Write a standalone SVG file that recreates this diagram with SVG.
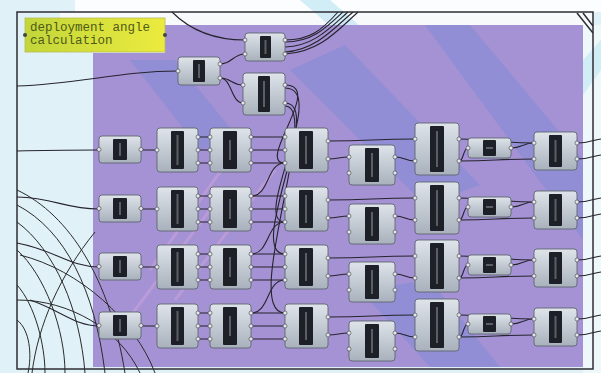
<svg xmlns="http://www.w3.org/2000/svg" width="601" height="373" viewBox="0 0 601 373">
<style>
.nb{fill:url(#ng);stroke:#5e6670;stroke-width:0.9}
.bar{fill:#1d2026}
.hl{fill:#8d939c;opacity:0.55}
.pt{fill:#e4e7eb;stroke:#3c4046;stroke-width:0.6}
.w{fill:none;stroke:#26242e;stroke-width:1.1}
.bg{fill:none;stroke:#2a2a2a;stroke-width:1}
.st{fill:#6f86d6;opacity:0.35}
.pk{fill:none;stroke:#d3a6dc;stroke-width:3;opacity:0.45}
.pl{font-family:"Liberation Mono",monospace;font-size:12.5px;fill:#4e5a1a}
</style>
<defs>
<linearGradient id="ng" x1="0" y1="0" x2="0" y2="1"><stop offset="0" stop-color="#dfe4ea"/><stop offset="1" stop-color="#a8b1bc"/></linearGradient>
<linearGradient id="pg" x1="0" y1="0" x2="1" y2="0"><stop offset="0" stop-color="#c2d63a"/><stop offset="1" stop-color="#eceb3e"/></linearGradient>
<g id="tA"><rect class="nb" width="42" height="27" rx="3"/><rect class="bar" x="14" y="3" width="14" height="21" rx="1"/><rect class="hl" x="20" y="7" width="2" height="13"/><circle class="pt" cx="0" cy="13.5" r="2"/><circle class="pt" cx="42" cy="13.5" r="2"/></g>
<g id="tB"><rect class="nb" width="41" height="44" rx="3"/><rect class="bar" x="14" y="3" width="13" height="38" rx="1"/><rect class="hl" x="19.5" y="7" width="2" height="30"/><circle class="pt" cx="0" cy="22" r="2"/><circle class="pt" cx="41" cy="9" r="2"/><circle class="pt" cx="41" cy="22" r="2"/><circle class="pt" cx="41" cy="35" r="2"/></g>
<g id="tC"><rect class="nb" width="41" height="44" rx="3"/><rect class="bar" x="13" y="3" width="14" height="38" rx="1"/><rect class="hl" x="19" y="12" width="2" height="20"/><circle class="pt" cx="0" cy="9" r="2"/><circle class="pt" cx="0" cy="22" r="2"/><circle class="pt" cx="0" cy="35" r="2"/><circle class="pt" cx="41" cy="9" r="2"/><circle class="pt" cx="41" cy="22" r="2"/><circle class="pt" cx="41" cy="35" r="2"/></g>
<g id="tD"><rect class="nb" width="43" height="44" rx="3"/><rect class="bar" x="14" y="3" width="14" height="38" rx="1"/><rect class="hl" x="20" y="8" width="2" height="28"/><circle class="pt" cx="0" cy="9" r="2"/><circle class="pt" cx="0" cy="22" r="2"/><circle class="pt" cx="0" cy="35" r="2"/><circle class="pt" cx="43" cy="13" r="2"/><circle class="pt" cx="43" cy="31" r="2"/></g>
<g id="tE"><rect class="nb" width="46" height="40" rx="3"/><rect class="bar" x="16" y="3" width="14" height="34" rx="1"/><rect class="hl" x="22" y="8" width="2" height="24"/><circle class="pt" cx="0" cy="12" r="2"/><circle class="pt" cx="0" cy="28" r="2"/><circle class="pt" cx="46" cy="12" r="2"/><circle class="pt" cx="46" cy="28" r="2"/></g>
<g id="tF"><rect class="nb" width="44" height="52" rx="3"/><rect class="bar" x="15" y="3" width="14" height="46" rx="1"/><rect class="hl" x="21" y="8" width="2" height="36"/><circle class="pt" cx="0" cy="16" r="2"/><circle class="pt" cx="0" cy="38" r="2"/><circle class="pt" cx="44" cy="16" r="2"/><circle class="pt" cx="44" cy="38" r="2"/></g>
<g id="tG"><rect class="nb" width="43" height="20" rx="3"/><rect class="bar" x="15" y="2" width="13" height="16" rx="1"/><rect class="hl" x="18" y="9" width="7" height="2"/><circle class="pt" cx="0" cy="10" r="2"/><circle class="pt" cx="43" cy="10" r="2"/></g>
<g id="tH"><rect class="nb" width="43" height="38" rx="3"/><rect class="bar" x="15" y="3" width="13" height="32" rx="1"/><rect class="hl" x="20.5" y="8" width="2" height="22"/><circle class="pt" cx="0" cy="11" r="2"/><circle class="pt" cx="0" cy="27" r="2"/><circle class="pt" cx="43" cy="11" r="2"/><circle class="pt" cx="43" cy="27" r="2"/></g>
<g id="tN1"><rect class="nb" width="40" height="28" rx="3"/><rect class="bar" x="15" y="3" width="11" height="22" rx="1"/><rect class="hl" x="19.5" y="7" width="2" height="14"/><circle class="pt" cx="0" cy="7" r="2"/><circle class="pt" cx="0" cy="21" r="2"/><circle class="pt" cx="40" cy="7" r="2"/><circle class="pt" cx="40" cy="21" r="2"/></g>
<g id="tN2"><rect class="nb" width="42" height="28" rx="3"/><rect class="bar" x="15" y="3" width="12" height="22" rx="1"/><rect class="hl" x="20" y="7" width="2" height="14"/><circle class="pt" cx="0" cy="14" r="2"/><circle class="pt" cx="42" cy="7" r="2"/><circle class="pt" cx="42" cy="21" r="2"/></g>
<g id="tN3"><rect class="nb" width="42" height="42" rx="3"/><rect class="bar" x="15" y="3" width="12" height="36" rx="1"/><rect class="hl" x="20" y="8" width="2" height="26"/><circle class="pt" cx="0" cy="12" r="2"/><circle class="pt" cx="0" cy="30" r="2"/><circle class="pt" cx="42" cy="12" r="2"/><circle class="pt" cx="42" cy="30" r="2"/></g>
</defs>

<g id="background">
<rect x="0" y="0" width="601" height="373" fill="#e0f1f7"/>
<rect x="75" y="0" width="526" height="12" fill="#fbfdfe"/>
<rect x="60" y="12" width="533" height="14" fill="#f7f9fb"/>
<polygon points="300,0 330,0 360,26 330,26" fill="#bfe6f2" opacity="0.7"/>
<polygon points="93,53 165,53 165,25 583,25 583,367 93,367" fill="#a492d4"/>
<polygon class="st" points="425,25 470,25 583,160 583,240"/>
<polygon class="st" points="290,70 345,45 480,185 425,205"/>
<polygon class="st" points="360,290 430,280 500,367 430,367"/>
<polygon class="st" points="130,60 175,60 240,140 200,150"/>
<line class="pk" x1="150" y1="270" x2="250" y2="130"/>
<line class="pk" x1="175" y1="300" x2="275" y2="170"/>
<line class="pk" x1="120" y1="330" x2="210" y2="210"/>
<rect x="583" y="25" width="18" height="348" fill="#eef7fa"/>
<polygon points="583,60 601,40 601,70 583,95" fill="#c4e8f3" opacity="0.7"/>
<path class="bg" d="M17 190 C70 215 110 280 125 373"/>
<path class="bg" d="M17 205 C65 230 95 290 105 373"/>
<path class="bg" d="M17 222 C55 250 80 310 85 373"/>
<path class="bg" d="M17 250 C45 275 65 330 65 373"/>
<path class="bg" d="M17 285 C35 305 45 345 45 373"/>
<path class="bg" d="M140 373 C120 330 70 300 17 300"/>
<path class="bg" d="M95 232 C60 275 38 325 32 373"/>
<path class="bg" d="M17 320 C30 330 32 355 28 373"/>
<path class="bg" d="M155 373 C135 320 80 270 20 255"/>
<rect x="17" y="12" width="576" height="357" fill="none" stroke="#2e2e33" stroke-width="1.5"/>
<path d="M577 13 L593 33 M583 13 L593 26" stroke="#2e2e33" stroke-width="1.5" fill="none"/>
</g>

<g id="connectors">
<path class="w" d="M17 86 C80 84 120 71 178 71"/>
<path class="w" d="M172 12 C190 30 215 40 245 40"/>
<path class="w" d="M220 64 C232 64 233 54 245 54"/>
<path class="w" d="M220 78 C232 78 231 85 243 85"/>
<path class="w" d="M220 78 C232 78 231 103 243 103"/>
<path class="w" d="M285 40 C310 40 322 30 338 12"/>
<path class="w" d="M285 42 C312 42 326 28 343 12"/>
<path class="w" d="M285 47 C314 46 330 28 348 12"/>
<path class="w" d="M285 52 C316 50 334 28 353 12"/>
<path class="w" d="M285 54 C320 52 338 30 358 12"/>
<path class="w" d="M285 85 C325 85 255 163 285 163"/>
<path class="w" d="M285 88 C330 88 250 222 285 222"/>
<path class="w" d="M285 103 C325 103 245 254 285 254"/>
<path class="w" d="M285 106 C322 106 240 313 285 313"/>
<path class="w" d="M251 196 C270 196 266 163 285 163"/>
<path class="w" d="M251 254 C270 254 266 222 285 222"/>
<path class="w" d="M251 313 C270 313 266 280 285 280"/>
<path class="w" d="M17 151 C50 150 70 150 99 150"/>
<path class="w" d="M17 197 C55 198 65 209 99 209"/>
<path class="w" d="M17 243 C55 250 70 267 99 267"/>
<path class="w" d="M30 300 C60 310 75 326 99 326"/>

<path class="w" d="M141 150 L157 150 M198 137 L210 137 M198 150 L210 150 M198 163 L210 163 M251 137 C268 137 268 137 285 137 M251 150 C268 150 268 150 285 150 M251 163 C268 163 268 163 285 163 M328 141 C372 141 372 139 415 139 M328 159 C338 159 339 157 349 157 M395 157 C405 157 405 161 415 161 M459 139 C496 139 496 143 534 143 M459 161 C464 161 463 148 468 148 M511 148 C522 148 523 143 534 143 M459 161 C496 161 496 159 534 159 M577 143 C590 143 592 140 601 139 M577 159 C590 159 592 156 601 155"/>
<path class="w" d="M141 209 L157 209 M198 196 L210 196 M198 209 L210 209 M198 222 L210 222 M251 196 C268 196 268 196 285 196 M251 209 C268 209 268 209 285 209 M251 222 C268 222 268 222 285 222 M328 200 C372 200 372 198 415 198 M328 218 C338 218 339 216 349 216 M395 216 C405 216 405 220 415 220 M459 198 C496 198 496 202 534 202 M459 220 C464 220 463 207 468 207 M511 207 C522 207 523 202 534 202 M459 220 C496 220 496 218 534 218 M577 202 C590 202 592 199 601 198 M577 218 C590 218 592 215 601 214"/>
<path class="w" d="M141 267 L157 267 M198 254 L210 254 M198 267 L210 267 M198 280 L210 280 M251 254 C268 254 268 254 285 254 M251 267 C268 267 268 267 285 267 M251 280 C268 280 268 280 285 280 M328 258 C372 258 372 256 415 256 M328 276 C338 276 339 274 349 274 M395 274 C405 274 405 278 415 278 M459 256 C496 256 496 260 534 260 M459 278 C464 278 463 265 468 265 M511 265 C522 265 523 260 534 260 M459 278 C496 278 496 276 534 276 M577 260 C590 260 592 257 601 256 M577 276 C590 276 592 273 601 272"/>
<path class="w" d="M141 326 L157 326 M198 313 L210 313 M198 326 L210 326 M198 339 L210 339 M251 313 C268 313 268 313 285 313 M251 326 C268 326 268 326 285 326 M251 339 C268 339 268 339 285 339 M328 317 C372 317 372 315 415 315 M328 335 C338 335 339 333 349 333 M395 333 C405 333 405 337 415 337 M459 315 C496 315 496 319 534 319 M459 337 C464 337 463 324 468 324 M511 324 C522 324 523 319 534 319 M459 337 C496 337 496 335 534 335 M577 319 C590 319 592 316 601 315 M577 335 C590 335 592 332 601 331"/>
</g>

<g id="panel">
<rect x="25" y="18" width="140" height="34" fill="url(#pg)" stroke="#b9bc55" stroke-width="0.8"/>
<circle cx="25" cy="35" r="2" fill="#444"/><circle cx="165" cy="35" r="2" fill="#444"/>
<text class="pl" x="30" y="31">deployment angle</text>
<text class="pl" x="30" y="44">calculation</text>
</g>

<g id="n1"><use href="#tN1" transform="translate(245,33)"/></g>
<g id="n2"><use href="#tN2" transform="translate(178,57)"/></g>
<g id="n3"><use href="#tN3" transform="translate(243,73)"/></g>

<g id="r1a"><use href="#tA" transform="translate(99,136)"/></g>
<g id="r1b"><use href="#tB" transform="translate(157,128)"/></g>
<g id="r1c"><use href="#tC" transform="translate(210,128)"/></g>
<g id="r1d"><use href="#tD" transform="translate(285,128)"/></g>
<g id="r1e"><use href="#tE" transform="translate(349,145)"/></g>
<g id="r1f"><use href="#tF" transform="translate(415,123)"/></g>
<g id="r1g"><use href="#tG" transform="translate(468,138)"/></g>
<g id="r1h"><use href="#tH" transform="translate(534,132)"/></g>

<g id="r2a"><use href="#tA" transform="translate(99,195)"/></g>
<g id="r2b"><use href="#tB" transform="translate(157,187)"/></g>
<g id="r2c"><use href="#tC" transform="translate(210,187)"/></g>
<g id="r2d"><use href="#tD" transform="translate(285,187)"/></g>
<g id="r2e"><use href="#tE" transform="translate(349,204)"/></g>
<g id="r2f"><use href="#tF" transform="translate(415,182)"/></g>
<g id="r2g"><use href="#tG" transform="translate(468,197)"/></g>
<g id="r2h"><use href="#tH" transform="translate(534,191)"/></g>

<g id="r3a"><use href="#tA" transform="translate(99,253)"/></g>
<g id="r3b"><use href="#tB" transform="translate(157,245)"/></g>
<g id="r3c"><use href="#tC" transform="translate(210,245)"/></g>
<g id="r3d"><use href="#tD" transform="translate(285,245)"/></g>
<g id="r3e"><use href="#tE" transform="translate(349,262)"/></g>
<g id="r3f"><use href="#tF" transform="translate(415,240)"/></g>
<g id="r3g"><use href="#tG" transform="translate(468,255)"/></g>
<g id="r3h"><use href="#tH" transform="translate(534,249)"/></g>

<g id="r4a"><use href="#tA" transform="translate(99,312)"/></g>
<g id="r4b"><use href="#tB" transform="translate(157,304)"/></g>
<g id="r4c"><use href="#tC" transform="translate(210,304)"/></g>
<g id="r4d"><use href="#tD" transform="translate(285,304)"/></g>
<g id="r4e"><use href="#tE" transform="translate(349,321)"/></g>
<g id="r4f"><use href="#tF" transform="translate(415,299)"/></g>
<g id="r4g"><use href="#tG" transform="translate(468,314)"/></g>
<g id="r4h"><use href="#tH" transform="translate(534,308)"/></g>
</svg>
